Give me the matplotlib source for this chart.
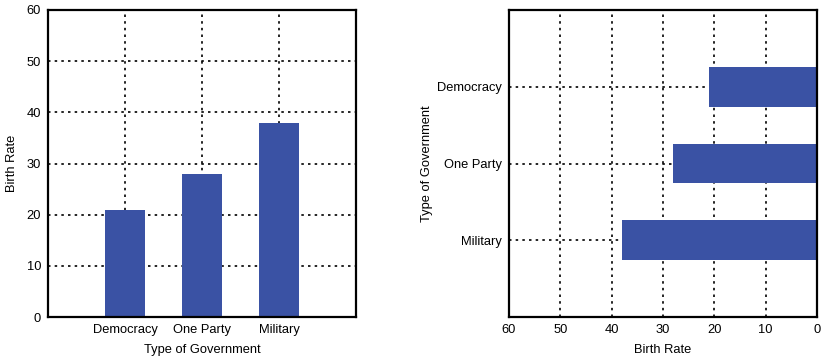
import numpy as np
import matplotlib
matplotlib.use("Agg")
import matplotlib.pyplot as plt

# data
govTypes = ["Democracy", "One Party", "Military"]
birthRate = [21, 28, 38]
rateTicks = [0, 10, 20, 30, 40, 50, 60]

barColor = "#3a52a4"
plt.rcParams["font.family"] = ["Liberation Sans", "DejaVu Sans"]
plt.rcParams["font.size"] = 9.3

fig = plt.figure(figsize=(8.25, 3.6), dpi=100)
axL = fig.add_axes([48/825, 1-317/360, 308/825, 307/360])
axR = fig.add_axes([509/825, 1-317/360, 308/825, 307/360])

pos = np.arange(len(govTypes))

#left: vertical bars
axL.bar(pos, birthRate, width=0.52, color=barColor, zorder=3)
axL.set_xlim(-1, 3)
axL.set_ylim(0, 60)
axL.set_xticks(pos)
axL.set_xticklabels(govTypes)
axL.set_yticks(rateTicks)
axL.set_xlabel("Type of Government", labelpad=6)
axL.set_ylabel("Birth Rate", labelpad=6)

#right: horizontal bars, reversed
axR.barh(pos, birthRate, height=0.52, color=barColor, zorder=3)
axR.set_ylim(3, -1)
axR.set_xlim(60, 0)
axR.set_yticks(pos)
axR.set_yticklabels(govTypes)
axR.set_xticks(rateTicks)
axR.set_xlabel("Birth Rate", labelpad=6)
axR.set_ylabel("Type of Government", labelpad=3)

for ax in (axL, axR):
    ax.grid(True, color="black", linestyle=(0, (1.5, 2.5)), linewidth=1.2, zorder=0)
    ax.set_axisbelow(True)
    ax.tick_params(length=0, pad=5)
    for s in ax.spines.values():
        s.set_linewidth(1.6)
        s.set_zorder(4)

fig.savefig("out.png", dpi=100)
